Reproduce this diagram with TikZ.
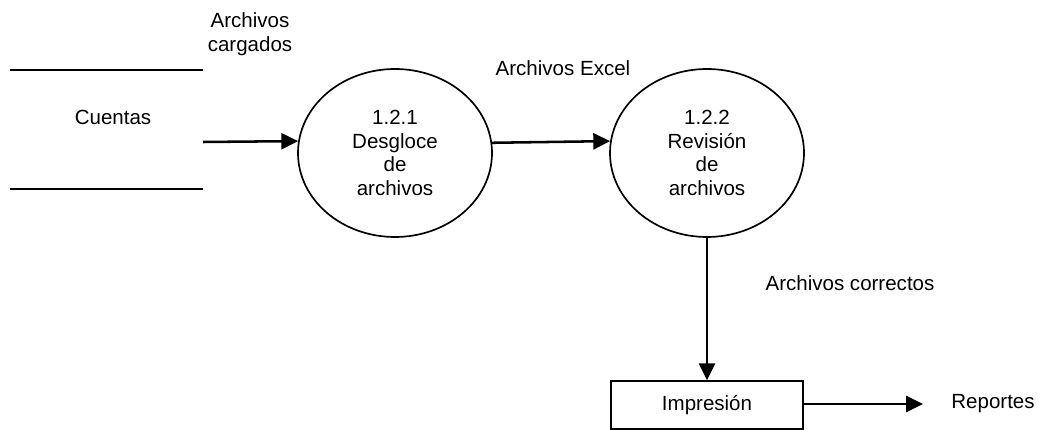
\documentclass[tikz,border=0pt]{standalone}
\usepackage{fontspec}
\setmainfont{Liberation Sans}
\usetikzlibrary{shapes.geometric, arrows.meta}
\tikzset{>={Triangle[length=4.2mm, width=4mm]}}
\tikzset{
  txt/.style={align=center, font=\fontsize{14.6}{16.8}\selectfont},
  proc/.style={ellipse, draw=black, line width=1.2pt, minimum width=4.85cm, minimum height=4.2cm, inner sep=0pt, txt},
  flow/.style={line width=1.8pt, ->}
}

\begin{document}
\begin{tikzpicture}
\useasboundingbox (0,0) rectangle (26.075,-10.75);

%\draw (0.25,-1.75) -- (5.075,-1.75);
\coordinate (sT1) at (0.25,-1.75);
\coordinate (sT2) at (5.075,-1.75);
\coordinate (sB1) at (0.25,-4.725);
\coordinate (sB2) at (5.075,-4.725);
\coordinate (sOut) at (5.075,-3.55);
\coordinate (rOut) at (23.075,-10.1);

\node[txt] (cuentas) at (2.825,-2.925) {Cuentas};
\node[txt] (cargados) at (6.25,-0.86) {Archivos\\cargados};
\node[proc] (desg) at (9.875,-3.825) {1.2.1\\Desgloce\\de\\archivos};
\node[proc] (rev) at (17.675,-3.825) {1.2.2\\Revisión\\de\\archivos};
\node[txt] (excel) at (14.075,-1.7) {Archivos Excel};
\node[txt] (correctos) at (21.25,-7.075) {Archivos correctos};
\node[txt, draw=black, line width=1.2pt, minimum width=4.8cm, minimum height=1.2cm] (imp) at (17.675,-10.125) {Impresión};
\node[txt] (rep) at (24.825,-10.1) {Reportes};

\draw[line width=1.4pt] (sT1) -- (sT2);
\draw[line width=1.4pt] (sB1) -- (sB2);
\draw[flow] (sOut) -- (desg.173.5);
\draw[flow] (desg.6.5) -- (rev.173.5);
\draw[flow] (rev.south) -- (imp.north);
\draw[flow] (imp.east |- rOut) -- (rOut);
\end{tikzpicture}
\end{document}
